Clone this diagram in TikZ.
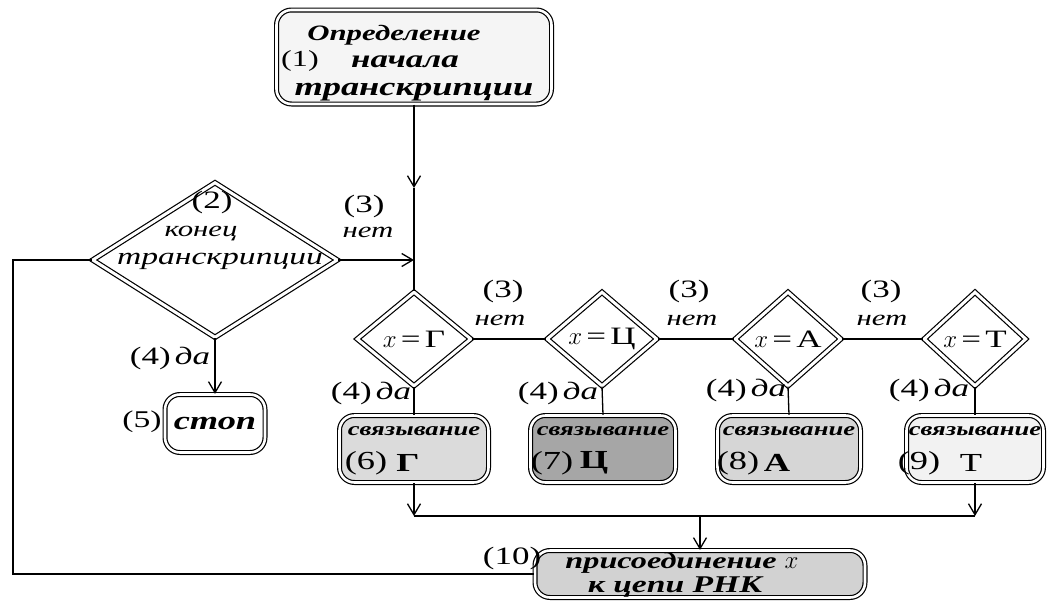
\documentclass[tikz,border=0pt]{standalone}
\usepackage{fontspec}
\setmainfont{Liberation Serif}
\newfontfamily\hand[FakeStretch=1.4]{Liberation Serif}
\usetikzlibrary{shapes.geometric,arrows.meta}
\newcommand\handsz[1]{\hand\itshape\fontsize{#1}{#1}\selectfont}
\newcommand\numsz[1]{\hand\upshape\fontsize{#1}{#1}\selectfont}
\begin{document}
\begin{tikzpicture}[x=1pt,y=-1pt,
  conn/.style={line width=1.3pt},
  arr/.style={conn,-{Straight Barb[length=11pt,width=13pt,line width=1.3pt]}},
  dbox/.style={draw=black, double=white, line width=1.2pt, double distance=2.6pt, rounded corners=15pt, inner sep=0pt},
  ddia/.style={draw=black, double=white, diamond, line width=1.2pt, double distance=3pt, inner sep=0pt, fill=white, font=\numsz{25}},
  txt/.style={inner sep=0pt, anchor=center}
]
\useasboundingbox (0,0) rectangle (1047,603);
\fill[white] (0,0) rectangle (1047,603);

% boxes
\node[dbox, fill=gray!8, minimum width=275pt, minimum height=94pt] (b1) at (414,57) {};
\node[dbox, fill=white, minimum width=100pt, minimum height=58pt] (b5) at (215,423.5) {};
\node[dbox, fill=gray!28, minimum width=149pt, minimum height=67pt] (b6) at (414,449) {};
\node[dbox, fill=gray!70, minimum width=145pt, minimum height=67pt] (b7) at (603,449) {};
\node[dbox, fill=gray!32, minimum width=143pt, minimum height=67pt] (b8) at (789,449) {};
\node[dbox, fill=gray!10, minimum width=137pt, minimum height=67pt] (b9) at (975,449) {};
\node[dbox, fill=gray!35, minimum width=330pt, minimum height=47pt] (b10) at (700,574) {};

% diamonds
\node[ddia, minimum width=245pt, minimum height=155pt] (d2) at (215,260) {};
\node[ddia, minimum width=114pt, minimum height=94pt] (dG) at (414,339) {$x$\,=\,Г};
\node[ddia, minimum width=110pt, minimum height=94pt] (dC) at (602,339) {$x$\,=\,Ц};
\node[ddia, minimum width=106pt, minimum height=94pt] (dA) at (788,339) {$x$\,=\,А};
\node[ddia, minimum width=102pt, minimum height=94pt] (dT) at (975,339) {$x$\,=\,Т};

% coordinates
\coordinate (m1) at (414,188);
\coordinate (j) at (414,260);
\coordinate (lc) at (13,260);
\coordinate (hL) at (414,516);
\coordinate (hR) at (975,516);
\coordinate (hM) at (700,516);

% connectors
\draw[arr] (b1) -- (m1);
\draw[conn] (m1) -- (dG);
\draw[arr] (d2) -- (j);
\draw[conn] (d2.west) -- (lc) |- (b10.west);
\draw[arr] (d2.south) -- (b5.north);
\draw[conn] (dG.east) -- (dC.west);
\draw[conn] (dC.east) -- (dA.west);
\draw[conn] (dA.east) -- (dT.west);
\draw[conn] (dG.south) -- (b6.north);
\draw[conn] (dC.south) -- (b7.north);
\draw[conn] (dA.south) -- (b8.north);
\draw[conn] (dT.south) -- (b9.north);
\draw[arr] (b6.south) -- (hL);
\draw[arr] (b9.south) -- (hR);
\draw[conn] (hL) -- (hR);
\draw[arr] (hM) -- (b10.north);

% box 1 texts
\node[txt, font=\numsz{23}] (t1n) at (300,61) {(1)};
\node[txt, font=\handsz{22}\bfseries] (t1a) at (394,35) {Определение};
\node[txt, font=\handsz{25}\bfseries] (t1b) at (405,62) {начала};
\node[txt, font=\handsz{26}\bfseries] (t1c) at (414,92) {транскрипции};

% diamond 2 texts
\node[txt, font=\numsz{25}] (t2n) at (212,202) {(2)};
\node[txt, font=\handsz{22}] (t2a) at (201,234) {конец};
\node[txt, font=\handsz{24}] (t2b) at (220,261) {транскрипции};

% no / yes labels
\node[txt, font=\numsz{25}] (n3a) at (364,206) {(3)};
\node[txt, font=\handsz{22}] (n3b) at (368,232) {нет};
\node[txt, font=\numsz{25}] (y4a) at (170,358) {(4)\,{\itshape да}};
\node[txt, font=\numsz{25}] (n3c) at (503,291) {(3)};
\node[txt, font=\handsz{22}] (n3d) at (500,320) {нет};
\node[txt, font=\numsz{25}] (n3e) at (689,291) {(3)};
\node[txt, font=\handsz{22}] (n3f) at (692,320) {нет};
\node[txt, font=\numsz{25}] (n3g) at (881,291) {(3)};
\node[txt, font=\handsz{22}] (n3h) at (882,320) {нет};
\node[txt, font=\numsz{25}] (y4b) at (371,393) {(4)\,{\itshape да}};
\node[txt, font=\numsz{25}] (y4c) at (558,393) {(4)\,{\itshape да}};
\node[txt, font=\numsz{25}] (y4d) at (746,390) {(4)\,{\itshape да}};
\node[txt, font=\numsz{25}] (y4e) at (929,390) {(4)\,{\itshape да}};

% box 5
\node[txt, font=\numsz{24}] (t5n) at (142,422) {(5)};
\node[txt, font=\handsz{26}\bfseries] (t5) at (215,423) {стоп};

% boxes 6-9
\node[txt, font=\handsz{19}\bfseries] (t6a) at (414,431) {связывание};
\node[txt, font=\numsz{26}] (t6b) at (366,463) {(6)};
\node[txt, font=\numsz{26}\bfseries] (t6c) at (408,463) {Г};
\node[txt, font=\handsz{19}\bfseries] (t7a) at (603,431) {связывание};
\node[txt, font=\numsz{26}] (t7b) at (552,463) {(7)};
\node[txt, font=\numsz{26}\bfseries] (t7c) at (594,463) {Ц};
\node[txt, font=\handsz{19}\bfseries] (t8a) at (789,431) {связывание};
\node[txt, font=\numsz{26}] (t8b) at (738,463) {(8)};
\node[txt, font=\numsz{26}\bfseries] (t8c) at (777,463) {А};
\node[txt, font=\handsz{19}\bfseries] (t9a) at (975,431) {связывание};
\node[txt, font=\numsz{26}] (t9b) at (919,463) {(9)};
\node[txt, font=\numsz{26}] (t9c) at (971,463) {Т};

% box 10
\node[txt, font=\numsz{25}] (t10n) at (512,558) {(10)};
\node[txt, font=\handsz{23}\bfseries] (t10a) at (682,563) {присоединение $x$};
\node[txt, font=\handsz{24}\bfseries] (t10b) at (675,587) {к цепи РНК};
\end{tikzpicture}
\end{document}
